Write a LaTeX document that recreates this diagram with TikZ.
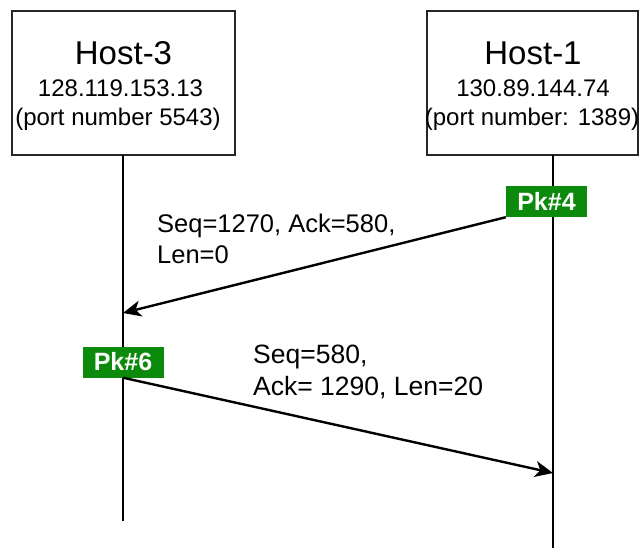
\documentclass[tikz,border=0pt]{standalone}
\usepackage{fontspec}
\setmainfont{Liberation Sans}
\usepackage{tikz}
\usetikzlibrary{arrows.meta}
\definecolor{pkgreen}{HTML}{0B8A0B}

\begin{document}
\begin{tikzpicture}[x=1pt,y=-1pt,
  hostbox/.style={draw=black!85,line width=1.2pt,inner sep=0pt},
  hostname/.style={anchor=base,font=\fontsize{33}{36}\selectfont},
  hostinfo/.style={anchor=base,font=\fontsize{24}{27}\selectfont},
  pktag/.style={fill=pkgreen,text=white,inner sep=0pt,
    minimum width=81pt,minimum height=31pt,
    font=\bfseries\fontsize{25}{28}\selectfont},
  msg/.style={anchor=base west,align=left,inner sep=0pt,
    font=\fontsize{25.5}{31}\selectfont},
  lifeline/.style={line width=2.2pt},
  pkt/.style={line width=2.4pt,-{Stealth[length=18pt,width=16pt,inset=5pt]}}]
  \useasboundingbox (0,0) rectangle (639,548);
  % hosts
  \node[hostbox,minimum width=223pt,minimum height=144pt] (h3) at (123.5,83) {};
  \node[hostbox,minimum width=211pt,minimum height=144pt] (h1) at (532.5,83) {};
  \node[hostname] (h3name) at (123.5,65) {Host-3};
  \node[hostinfo] (h3ip) at (120.5,97) {128.119.153.13};
  \node[hostinfo] (h3port) at (118,126) {(port number 5543)};
  \node[hostname] (h1name) at (533,65) {Host-1};
  \node[hostinfo] (h1ip) at (533,97) {130.89.144.74};
  \node[hostinfo] (h1port) at (532,126) {(port number: 1389)};
  % lifelines
  \coordinate (h3top) at (123,155);
  \coordinate (h3end) at (123,521);
  \coordinate (h1top) at (553,155);
  \coordinate (h1end) at (553,548);
  \draw[lifeline] (h3top) -- (h3end);
  \draw[lifeline] (h1top) -- (h1end);
  % packets
  \node[pktag] (pk4) at (546.5,201.5) {Pk\#4};
  \node[pktag] (pk6) at (123,362) {Pk\#6};
  \coordinate (a4end) at (123,313);
  \coordinate (a6end) at (553,473);
  \draw[pkt] (pk4.south west) -- (a4end);
  \draw[pkt] (pk6.south) -- (a6end);
  \node[msg] (m4) at (157,263) {Seq=1270, Ack=580,\\Len=0};
  \node[msg,font=\fontsize{26.5}{32}\selectfont] (m6) at (253,395) {Seq=580,\\Ack= 1290, Len=20};
\end{tikzpicture}
\end{document}
